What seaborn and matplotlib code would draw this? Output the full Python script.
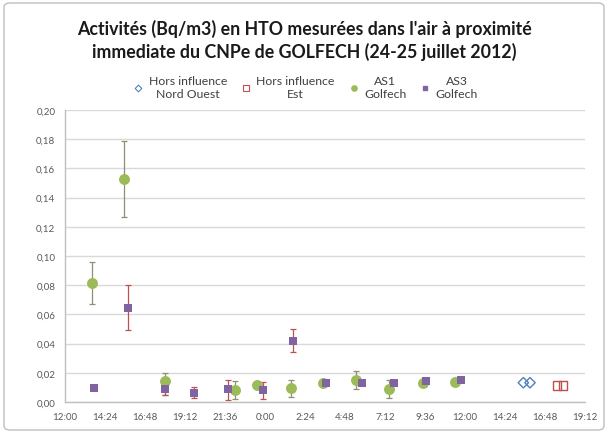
import matplotlib
matplotlib.use("Agg")
import matplotlib.pyplot as plt
import matplotlib.patches as mpatches
from matplotlib.lines import Line2D
import seaborn as sns
import pandas as pd
import numpy as np

# ---------------- data ----------------
as1_time = ["2012-07-24 13:38", "2012-07-24 15:33", "2012-07-24 18:01", "2012-07-24 22:12",
            "2012-07-24 23:30", "2012-07-25 01:32", "2012-07-25 03:30", "2012-07-25 05:28",
            "2012-07-25 07:27", "2012-07-25 09:28", "2012-07-25 11:25"]
as1_val = [0.0817, 0.153, 0.0143, 0.0082, 0.0114, 0.0098, 0.0127, 0.0150, 0.0086, 0.0132, 0.0136]
as1_lo = [0.0673, 0.127, 0.0047, 0.0018, 0.0110, 0.0036, 0.0125, 0.0086, 0.0025, 0.0130, 0.0134]
as1_hi = [0.0960, 0.179, 0.0196, 0.0146, 0.0118, 0.0153, 0.0129, 0.0212, 0.0148, 0.0134, 0.0138]

as3_time = ["2012-07-24 13:45", "2012-07-24 15:48", "2012-07-24 18:01", "2012-07-24 19:45",
            "2012-07-24 21:48", "2012-07-24 23:52", "2012-07-25 01:40", "2012-07-25 03:40",
            "2012-07-25 05:50", "2012-07-25 07:44", "2012-07-25 09:41", "2012-07-25 11:44"]
as3_val = [0.0093, 0.0643, 0.0091, 0.0064, 0.0086, 0.0082, 0.0420, 0.0130, 0.0130, 0.0132, 0.0141, 0.0148]
as3_lo = [0.0091, 0.0493, 0.0047, 0.0025, 0.0016, 0.0018, 0.0342, 0.0128, 0.0128, 0.0130, 0.0139, 0.0146]
as3_hi = [0.0095, 0.0800, 0.0130, 0.0102, 0.0148, 0.0136, 0.0497, 0.0132, 0.0132, 0.0134, 0.0143, 0.0150]

no_time = ["2012-07-25 15:30", "2012-07-25 15:54"]
no_val = [0.0132, 0.0132]
est_time = ["2012-07-25 17:30", "2012-07-25 17:52"]
est_val = [0.0114, 0.0114]

x_tick_labels = ["12:00", "14:24", "16:48", "19:12", "21:36", "0:00", "2:24", "4:48",
                 "7:12", "9:36", "12:00", "14:24", "16:48", "19:12"]
y_ticks = [0.00, 0.02, 0.04, 0.06, 0.08, 0.10, 0.12, 0.14, 0.16, 0.18, 0.20]

series_labels = ["Hors influence\nNord Ouest", "Hors influence\nEst", "AS1\nGolfech", "AS3\nGolfech"]
title = "Activités (Bq/m3) en HTO mesurées dans l'air à proximité\nimmediate du CNPe de GOLFECH (24-25 juillet 2012)"

# ---------------- helpers ----------------
t0 = pd.Timestamp("2012-07-24 12:00")
def hours(ts):
    return [(pd.Timestamp(t) - t0).total_seconds() / 3600.0 for t in ts]

df_as1 = pd.DataFrame({"h": hours(as1_time), "v": as1_val, "lo": as1_lo, "hi": as1_hi})
df_as3 = pd.DataFrame({"h": hours(as3_time), "v": as3_val, "lo": as3_lo, "hi": as3_hi})
df_no = pd.DataFrame({"h": hours(no_time), "v": no_val})
df_est = pd.DataFrame({"h": hours(est_time), "v": est_val})

sns.set_theme(style="white")
plt.rcParams["font.family"] = ["Lato", "DejaVu Sans"]

GREEN = "#9bbb59"
PURPLE = "#8064a2"
BLUE = "#4f81bd"
RED = "#c0504d"
GRID = "#d9d9d9"
TXT = "#595959"

fig = plt.figure(figsize=(6.08, 4.35), dpi=100)
ax = fig.add_axes([65 / 608, 1 - 403 / 435, 520 / 608, 292 / 435])

# error bars
ax.errorbar(df_as1["h"], df_as1["v"],
            yerr=[df_as1["v"] - df_as1["lo"], df_as1["hi"] - df_as1["v"]],
            fmt="none", ecolor="#8f8f73", elinewidth=0.9, capsize=2.5, capthick=0.9, zorder=2)
ax.errorbar(df_as3["h"], df_as3["v"],
            yerr=[df_as3["v"] - df_as3["lo"], df_as3["hi"] - df_as3["v"]],
            fmt="none", ecolor=RED, elinewidth=0.9, capsize=2.5, capthick=0.9, zorder=2)

sns.scatterplot(data=df_no, x="h", y="v", ax=ax, marker="D", s=28,
                facecolor="none", edgecolor=BLUE, linewidth=1.0, zorder=3)
sns.scatterplot(data=df_est, x="h", y="v", ax=ax, marker="s", s=36,
                facecolor="none", edgecolor=RED, linewidth=1.0, zorder=3)
sns.scatterplot(data=df_as1, x="h", y="v", ax=ax, marker="o", s=62,
                color=GREEN, edgecolor=GREEN, linewidth=0, zorder=4)
sns.scatterplot(data=df_as3, x="h", y="v", ax=ax, marker="s", s=27,
                color=PURPLE, edgecolor=PURPLE, linewidth=0, zorder=5)

# axes
ax.set_xlim(0, 31.2)
ax.set_ylim(0, 0.20)
ax.set_xticks(np.arange(len(x_tick_labels)) * 2.4)
ax.set_xticklabels(x_tick_labels)
ax.set_yticks(y_ticks)
ax.set_yticklabels([f"{v:.2f}".replace(".", ",") for v in y_ticks])
ax.set_xlabel("")
ax.set_ylabel("")
ax.yaxis.grid(True, color=GRID, linewidth=1.0)
ax.set_axisbelow(True)
for s in ["top", "right"]:
    ax.spines[s].set_visible(False)
for s in ["left", "bottom"]:
    ax.spines[s].set_color("#bfbfbf")
    ax.spines[s].set_linewidth(1.0)
ax.tick_params(axis="both", which="both", direction="out", length=4, width=0.8,
               color="#bfbfbf", labelsize=7, labelcolor=TXT, pad=3)

# legend
handles = [
    Line2D([], [], linestyle="none", marker="D", markersize=3.4, color=BLUE,
           markerfacecolor="none", markeredgecolor=BLUE, markeredgewidth=0.8),
    Line2D([], [], linestyle="none", marker="s", markersize=4.2, color=RED,
           markerfacecolor="none", markeredgecolor=RED, markeredgewidth=0.8),
    Line2D([], [], linestyle="none", marker="o", markersize=3.8, color=GREEN),
    Line2D([], [], linestyle="none", marker="s", markersize=3.3, color=PURPLE),
]
leg = fig.legend(handles, series_labels, loc="center", bbox_to_anchor=(306 / 608, 0.797),
                 ncol=4, frameon=False, fontsize=8.8, handlelength=0.7, handletextpad=0.5,
                 columnspacing=1.2, labelcolor="#404040")
for t in leg.get_texts():
    t.set_multialignment("center")

fig.text(0.5, 0.907, title, ha="center", va="center", fontsize=12.8, fontweight="bold",
         color="#1a1a1a", linespacing=1.3)

# figure border
fig.patches.append(mpatches.FancyBboxPatch((4 / 608, 4 / 435), 600 / 608, 427 / 435,
                                           boxstyle="round,pad=0,rounding_size=0.01",
                                           transform=fig.transFigure, fill=False,
                                           edgecolor="#bfbfbf", linewidth=1.0))

fig.savefig("out.png", dpi=100)
